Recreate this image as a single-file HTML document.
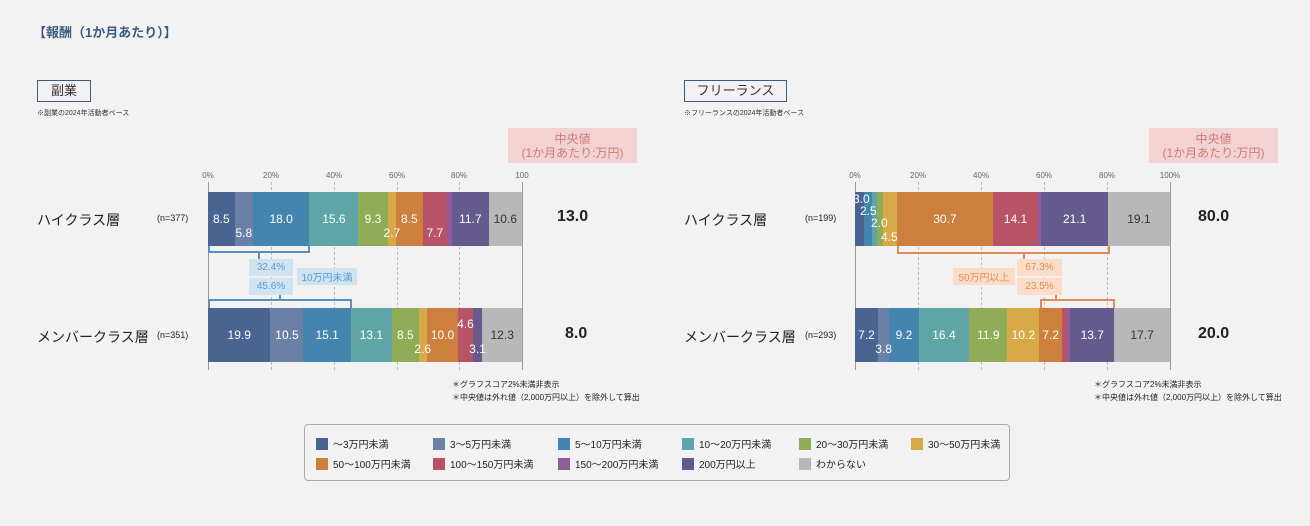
<!DOCTYPE html>
<html><head><meta charset="utf-8"><style>
*{margin:0;padding:0;box-sizing:border-box}
body{width:1310px;height:526px;background:#f2f2f2;position:relative;overflow:hidden;font-family:"Liberation Sans","Noto Sans CJK JP",sans-serif;color:#222}
.a{position:absolute;white-space:nowrap}
.bar{position:absolute;height:54px;display:flex}
.bar div{height:100%;flex-shrink:0;position:relative}
.bar span{position:absolute;left:50%;top:50%;transform:translate(-50%,-50%);color:#fff;font-size:12px;white-space:nowrap;z-index:5}
.bar span.lo{top:75%}
.bar span.dk{color:#333}
.c1{background:#4a6491}.c2{background:#6a80a5}.c3{background:#4684b0}.c4{background:#5fa5a7}.c5{background:#8fac57}.c6{background:#d8a949}.c7{background:#cd7f3d}.c8{background:#b75267}.c9{background:#925c9b}.c10{background:#645a8e}.c11{background:#b8b8b8}
.grid{position:absolute;top:182px;height:188px;border-left:1px dashed #bbb}
.ax{position:absolute;top:182px;height:188px;border-left:1px solid #999}
.tk{position:absolute;top:171px;font-size:8px;color:#666;transform:translateX(-50%)}
.bx{position:absolute;display:flex;align-items:center;justify-content:center;font-size:10px}
.bl{background:#cfe3f1;color:#5b9bd5}
.or{background:#fbdcc6;color:#e0905a}
.lg{position:absolute;font-size:10px;display:flex;align-items:center}
.lg i{display:inline-block;width:12px;height:12px;margin-right:5px}
</style></head><body>
<div class="a" style="left:33px;top:22px;font-size:13px;font-weight:bold;color:#3b5a80">【報酬（1か月あたり）】</div>

<div class="a" style="left:37px;top:80px;width:54px;height:22px;border:1.5px solid #3b5a80;font-size:13px;text-align:center;line-height:19px;color:#333">副業</div>
<div class="a" style="left:37px;top:108px;font-size:7px;color:#333">※副業の2024年活動者ベース</div>
<div class="bx" style="left:508px;top:128px;width:129px;height:35px;background:#f2d2d2;color:#d27a7a;font-size:12px;line-height:14px;flex-direction:column">中央値<br><span>(1か月あたり:万円)</span></div>

<div class="tk" style="left:208px">0%</div><div class="tk" style="left:271px">20%</div><div class="tk" style="left:334px">40%</div><div class="tk" style="left:397px">60%</div><div class="tk" style="left:459px">80%</div><div class="tk" style="left:522px">100</div>
<div class="ax" style="left:208px"></div><div class="grid" style="left:271px"></div><div class="grid" style="left:334px"></div><div class="grid" style="left:397px"></div><div class="grid" style="left:459px"></div><div class="ax" style="left:522px"></div>

<div class="a" style="left:37px;top:210px;font-size:14px">ハイクラス層</div>
<div class="a" style="left:157px;top:213px;font-size:9px">(n=377)</div>
<div class="bar" style="left:208px;top:192px;width:314px">
<div class="c1" style="width:8.5%"><span>8.5</span></div><div class="c2" style="width:5.8%"><span class="lo">5.8</span></div><div class="c3" style="width:18%"><span>18.0</span></div><div class="c4" style="width:15.6%"><span>15.6</span></div><div class="c5" style="width:9.3%"><span>9.3</span></div><div class="c6" style="width:2.7%"><span class="lo">2.7</span></div><div class="c7" style="width:8.5%"><span>8.5</span></div><div class="c8" style="width:7.7%"><span class="lo">7.7</span></div><div class="c9" style="width:1.6%"></div><div class="c10" style="width:11.7%"><span>11.7</span></div><div class="c11" style="flex:1 1 0"><span class="dk">10.6</span></div>
</div>
<div class="a" style="left:557px;top:208px;font-size:16px;font-weight:bold">13.0</div>

<div class="a" style="left:37px;top:327px;font-size:14px">メンバークラス層</div>
<div class="a" style="left:157px;top:330px;font-size:9px">(n=351)</div>
<div class="bar" style="left:208px;top:308px;width:314px">
<div class="c1" style="width:19.9%"><span>19.9</span></div><div class="c2" style="width:10.5%"><span>10.5</span></div><div class="c3" style="width:15.1%"><span>15.1</span></div><div class="c4" style="width:13.1%"><span>13.1</span></div><div class="c5" style="width:8.5%"><span>8.5</span></div><div class="c6" style="width:2.6%"><span class="lo">2.6</span></div><div class="c7" style="width:10%"><span>10.0</span></div><div class="c8" style="width:4.6%"><span style="top:30%">4.6</span></div><div class="c10" style="width:3.1%"><span class="lo">3.1</span></div><div class="c11" style="flex:1 1 0"><span class="dk">12.3</span></div>
</div>
<div class="a" style="left:565px;top:325px;font-size:16px;font-weight:bold">8.0</div>

<div class="a" style="left:208px;top:246px;width:102px;height:7px;border:2px solid #5b8fc0;border-top:none"></div>
<div class="a" style="left:258px;top:252px;width:2px;height:7px;background:#5b8fc0"></div>
<div class="bx bl" style="left:249px;top:259px;width:44px;height:17px">32.4%</div>
<div class="bx bl" style="left:297px;top:268px;width:60px;height:17px">10万円未満</div>
<div class="bx bl" style="left:249px;top:278px;width:44px;height:17px">45.6%</div>
<div class="a" style="left:279px;top:295px;width:2px;height:6px;background:#5b8fc0"></div>
<div class="a" style="left:208px;top:299px;width:144px;height:9px;border:2px solid #5b8fc0;border-bottom:none"></div>

<div class="a" style="left:452px;top:379px;font-size:8px">＊グラフスコア2%未満非表示</div>
<div class="a" style="left:452px;top:392px;font-size:8px">＊中央値は外れ値（2,000万円以上）を除外して算出</div>

<div class="a" style="left:684px;top:80px;width:103px;height:22px;border:1.5px solid #3b5a80;font-size:13px;text-align:center;line-height:19px;color:#333">フリーランス</div>
<div class="a" style="left:684px;top:108px;font-size:7px;color:#333">※フリーランスの2024年活動者ベース</div>
<div class="bx" style="left:1149px;top:128px;width:129px;height:35px;background:#f2d2d2;color:#d27a7a;font-size:12px;line-height:14px;flex-direction:column">中央値<br><span>(1か月あたり:万円)</span></div>

<div class="tk" style="left:855px">0%</div><div class="tk" style="left:918px">20%</div><div class="tk" style="left:981px">40%</div><div class="tk" style="left:1044px">60%</div><div class="tk" style="left:1107px">80%</div><div class="tk" style="left:1170px">100%</div>
<div class="ax" style="left:855px"></div><div class="grid" style="left:918px"></div><div class="grid" style="left:981px"></div><div class="grid" style="left:1044px"></div><div class="grid" style="left:1107px"></div><div class="ax" style="left:1170px"></div>

<div class="a" style="left:684px;top:210px;font-size:14px">ハイクラス層</div>
<div class="a" style="left:805px;top:213px;font-size:9px">(n=199)</div>
<div class="bar" style="left:855px;top:192px;width:315px">
<div class="c1" style="width:2.9%"></div><div class="c3" style="width:2.6%"></div><div class="c4" style="width:1.4%"></div><div class="c5" style="width:1.9%"></div><div class="c6" style="width:4.4%"></div><div class="c7" style="width:30.7%"><span>30.7</span></div><div class="c8" style="width:14.1%"><span>14.1</span></div><div class="c9" style="width:1.2%"></div><div class="c10" style="width:21.1%"><span>21.1</span></div><div class="c11" style="flex:1 1 0"><span class="dk">19.1</span></div>
</div>
<div class="a" style="left:853px;top:192px;font-size:12px;color:#fff;z-index:6">3.0</div>
<div class="a" style="left:860px;top:204px;font-size:12px;color:#fff;z-index:6">2.5</div>
<div class="a" style="left:871px;top:216px;font-size:12px;color:#fff;z-index:6">2.0</div>
<div class="a" style="left:881px;top:230px;font-size:12px;color:#fff;z-index:6">4.5</div>
<div class="a" style="left:1198px;top:208px;font-size:16px;font-weight:bold">80.0</div>

<div class="a" style="left:684px;top:327px;font-size:14px">メンバークラス層</div>
<div class="a" style="left:805px;top:330px;font-size:9px">(n=293)</div>
<div class="bar" style="left:855px;top:308px;width:315px">
<div class="c1" style="width:7.3%"><span>7.2</span></div><div class="c2" style="width:3.6%"><span class="lo">3.8</span></div><div class="c3" style="width:9.3%"><span>9.2</span></div><div class="c4" style="width:16.1%"><span>16.4</span></div><div class="c5" style="width:12.1%"><span>11.9</span></div><div class="c6" style="width:10.1%"><span>10.2</span></div><div class="c7" style="width:7.2%"><span>7.2</span></div><div class="c8" style="width:1.7%"></div><div class="c9" style="width:1%"></div><div class="c10" style="width:13.9%"><span>13.7</span></div><div class="c11" style="flex:1 1 0"><span class="dk">17.7</span></div>
</div>
<div class="a" style="left:1198px;top:325px;font-size:16px;font-weight:bold">20.0</div>

<div class="a" style="left:897px;top:246px;width:213px;height:8px;border:2px solid #e08a5a;border-top:none"></div>
<div class="a" style="left:1023px;top:253px;width:2px;height:6px;background:#e08a5a"></div>
<div class="bx or" style="left:1017px;top:259px;width:45px;height:17px">67.3%</div>
<div class="bx or" style="left:953px;top:268px;width:62px;height:17px">50万円以上</div>
<div class="bx or" style="left:1017px;top:278px;width:45px;height:17px">23.5%</div>
<div class="a" style="left:1055px;top:295px;width:2px;height:5px;background:#e08a5a"></div>
<div class="a" style="left:1040px;top:299px;width:75px;height:9px;border:2px solid #e08a5a;border-bottom:none"></div>

<div class="a" style="left:1094px;top:379px;font-size:8px">＊グラフスコア2%未満非表示</div>
<div class="a" style="left:1094px;top:392px;font-size:8px">＊中央値は外れ値（2,000万円以上）を除外して算出</div>

<div class="a" style="left:304px;top:424px;width:706px;height:57px;border:1.5px solid #aaa;border-radius:4px"></div>
<div class="lg" style="left:316px;top:436px"><i class="c1"></i>～3万円未満</div>
<div class="lg" style="left:433px;top:436px"><i class="c2"></i>3～5万円未満</div>
<div class="lg" style="left:558px;top:436px"><i class="c3"></i>5～10万円未満</div>
<div class="lg" style="left:682px;top:436px"><i class="c4"></i>10～20万円未満</div>
<div class="lg" style="left:799px;top:436px"><i class="c5"></i>20～30万円未満</div>
<div class="lg" style="left:911px;top:436px"><i class="c6"></i>30～50万円未満</div>
<div class="lg" style="left:316px;top:456px"><i class="c7"></i>50～100万円未満</div>
<div class="lg" style="left:433px;top:456px"><i class="c8"></i>100～150万円未満</div>
<div class="lg" style="left:558px;top:456px"><i class="c9"></i>150～200万円未満</div>
<div class="lg" style="left:682px;top:456px"><i class="c10"></i>200万円以上</div>
<div class="lg" style="left:799px;top:456px"><i class="c11"></i>わからない</div>
</body></html>
